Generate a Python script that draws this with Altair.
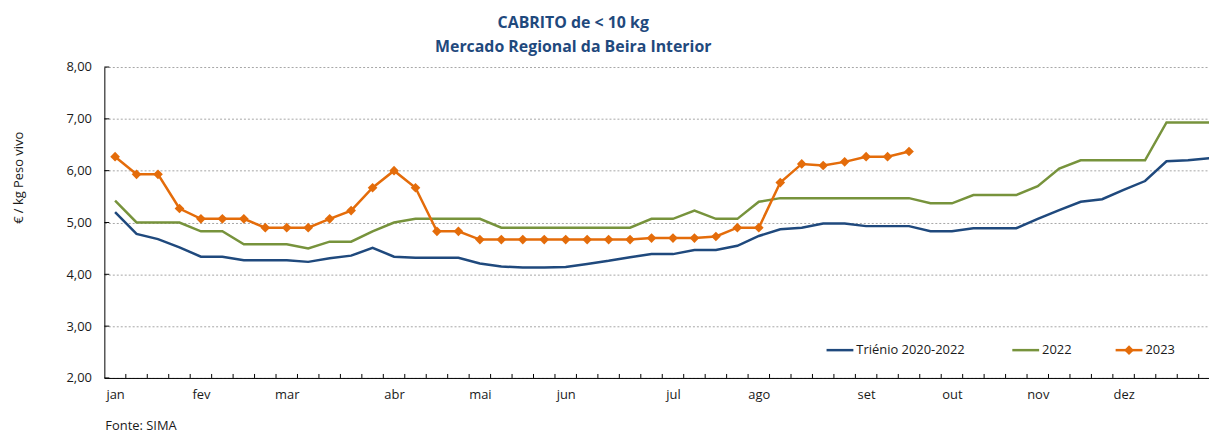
import altair as alt
import pandas as pd

# ---------------- data ----------------
weeks = list(range(52))

trienio = [5.20, 4.78, 4.68, 4.52, 4.34, 4.34, 4.27, 4.27, 4.27, 4.24,
           4.31, 4.36, 4.51, 4.34, 4.32, 4.32, 4.32, 4.21, 4.15, 4.13,
           4.13, 4.14, 4.20, 4.26, 4.33, 4.39, 4.39, 4.47, 4.47, 4.55,
           4.74, 4.87, 4.90, 4.98, 4.98, 4.93, 4.93, 4.93, 4.83, 4.83,
           4.89, 4.89, 4.89, 5.07, 5.24, 5.40, 5.45, 5.63, 5.80, 6.18,
           6.20, 6.24]

y2022 = [5.42, 5.00, 5.00, 5.00, 4.83, 4.83, 4.58, 4.58, 4.58, 4.50,
         4.63, 4.63, 4.83, 5.00, 5.07, 5.07, 5.07, 5.07, 4.90, 4.90,
         4.90, 4.90, 4.90, 4.90, 4.90, 5.07, 5.07, 5.23, 5.07, 5.07,
         5.40, 5.47, 5.47, 5.47, 5.47, 5.47, 5.47, 5.47, 5.37, 5.37,
         5.53, 5.53, 5.53, 5.70, 6.04, 6.20, 6.20, 6.20, 6.20, 6.93,
         6.93, 6.93]

y2023 = [6.27, 5.93, 5.93, 5.27, 5.07, 5.07, 5.07, 4.90, 4.90, 4.90,
         5.07, 5.23, 5.67, 6.00, 5.67, 4.83, 4.83, 4.67, 4.67, 4.67,
         4.67, 4.67, 4.67, 4.67, 4.67, 4.70, 4.70, 4.70, 4.73, 4.90,
         4.90, 5.77, 6.13, 6.10, 6.17, 6.27, 6.27, 6.37]

series_names = ["Triénio 2020-2022", "2022", "2023"]
series_colors = ["#1F497D", "#77933C", "#E46C0A"]

month_labels = ["jan", "fev", "mar", "abr", "mai", "jun",
                "jul", "ago", "set", "out", "nov", "dez"]
month_weeks = [0, 4, 8, 13, 17, 21, 26, 30, 35, 39, 43, 47]

y_ticks = [2, 3, 4, 5, 6, 7, 8]
week_bounds = [k + 0.5 for k in range(51)]

title_lines = ["CABRITO de < 10 kg", "Mercado Regional da Beira Interior"]
y_title = "€ / kg Peso vivo"
source_note = "Fonte: SIMA"

# ---------------- tables ----------------
rows = []
for name, vals in zip(series_names, [trienio, y2022, y2023]):
    for w, v in zip(weeks, vals):
        rows.append({"week": w, "value": v, "series": name})
df = pd.DataFrame(rows)

W, H = 1112, 313
FONT = "Open Sans"
TXT = "#1a1a1a"
FS = 13

xscale = alt.Scale(domain=[-0.5, 50.98], nice=False, zero=False)
yscale = alt.Scale(domain=[2, 8], nice=False, zero=False)
cscale = alt.Scale(domain=series_names, range=series_colors)

label_expr = "{}[indexof({}, datum.value)]".format(
    "[" + ",".join("'%s'" % m for m in month_labels) + "]",
    "[" + ",".join(str(m) for m in month_weeks) + "]",
)

x_axis = alt.Axis(values=month_weeks, labelExpr=label_expr, title=None,
                  grid=False, ticks=False, domain=True, domainColor="#000000",
                  domainWidth=1, labelPadding=11, labelFont=FONT,
                  labelFontSize=FS, labelColor=TXT, labelAlign="center")
y_axis = alt.Axis(values=y_ticks,
                  labelExpr="replace(format(datum.value, '.2f'), '.', ',')",
                  title=y_title, titleFont=FONT, titleFontSize=FS,
                  titleFontWeight="normal", titleColor=TXT,
                  titleX=-82, titleY=111, titleAlign="center",
                  titleBaseline="alphabetic", titleAngle=270,
                  grid=True, gridColor="#a6a6a6", gridDash=[2, 2],
                  gridWidth=1, ticks=False, domain=True,
                  domainColor="#000000", domainWidth=1, labelPadding=13,
                  labelFont=FONT, labelFontSize=FS, labelColor=TXT)

base = alt.Chart(df).encode(
    x=alt.X("week:Q", scale=xscale, axis=x_axis),
    y=alt.Y("value:Q", scale=yscale, axis=y_axis),
    color=alt.Color("series:N", scale=cscale, legend=None),
)

line_tri = base.transform_filter(alt.datum.series == series_names[0]).mark_line(
    strokeWidth=2.5, clip=True)
line_22 = base.transform_filter(alt.datum.series == series_names[1]).mark_line(
    strokeWidth=2.5, clip=True)
line_23 = base.transform_filter(alt.datum.series == series_names[2]).mark_line(
    strokeWidth=2.5, clip=True,
    point=alt.OverlayMarkDef(shape="diamond", size=95, filled=True,
                             color=series_colors[2], opacity=1))

# inward tick marks on the x axis (between weeks)
xticks = alt.Chart(pd.DataFrame({"week": week_bounds})).mark_rule(
    color="#000000", strokeWidth=1).encode(
    x=alt.X("week:Q", scale=xscale, axis=x_axis),
    y=alt.value(H), y2=alt.value(H - 4))

# inward tick marks on the y axis
yticks = alt.Chart(pd.DataFrame({"value": y_ticks})).mark_rule(
    color="#000000", strokeWidth=1).encode(
    y=alt.Y("value:Q", scale=yscale, axis=y_axis),
    x=alt.value(0), x2=alt.value(5))

# custom legend (bottom right, inside the plot)
leg_y = 285
leg_pos = [(727, 754), (914, 941), (1018, 1045)]
legend_layers = []
for name, col, (x1, x2) in zip(series_names, series_colors, leg_pos):
    ldf = pd.DataFrame({"label": [name]})
    legend_layers.append(
        alt.Chart(ldf).mark_rule(color=col, strokeWidth=2.5).encode(
            x=alt.value(x1), x2=alt.value(x2), y=alt.value(leg_y)))
    if name == "2023":
        legend_layers.append(
            alt.Chart(ldf).mark_point(shape="diamond", size=95, filled=True,
                                      color=col, opacity=1).encode(
                x=alt.value((x1 + x2) / 2), y=alt.value(leg_y)))
    legend_layers.append(
        alt.Chart(ldf).mark_text(align="left", baseline="middle", font=FONT,
                                 fontSize=FS, color=TXT).encode(
            text="label:N", x=alt.value(x2 + 3), y=alt.value(leg_y)))

source = alt.Chart(pd.DataFrame({"t": [source_note]})).mark_text(
    align="left", baseline="middle", font=FONT, fontSize=FS, color=TXT).encode(
    text="t:N", x=alt.value(1), y=alt.value(H + 48))

chart = alt.layer(
    line_tri, line_22, line_23, xticks, yticks, *legend_layers, source
).properties(
    width=W, height=H,
    title=alt.TitleParams(
        text=title_lines, anchor="middle", frame="group", dx=-84,
        font=FONT, fontSize=16, fontWeight="bold", color="#1F497D",
        lineHeight=24, offset=6),
    autosize=alt.AutoSizeParams(type="none"),
    padding={"left": 97, "top": 58, "right": 0, "bottom": 55},
).configure_view(stroke=None)

chart.save("out.html", embed_options={"renderer": "svg", "actions": False})
